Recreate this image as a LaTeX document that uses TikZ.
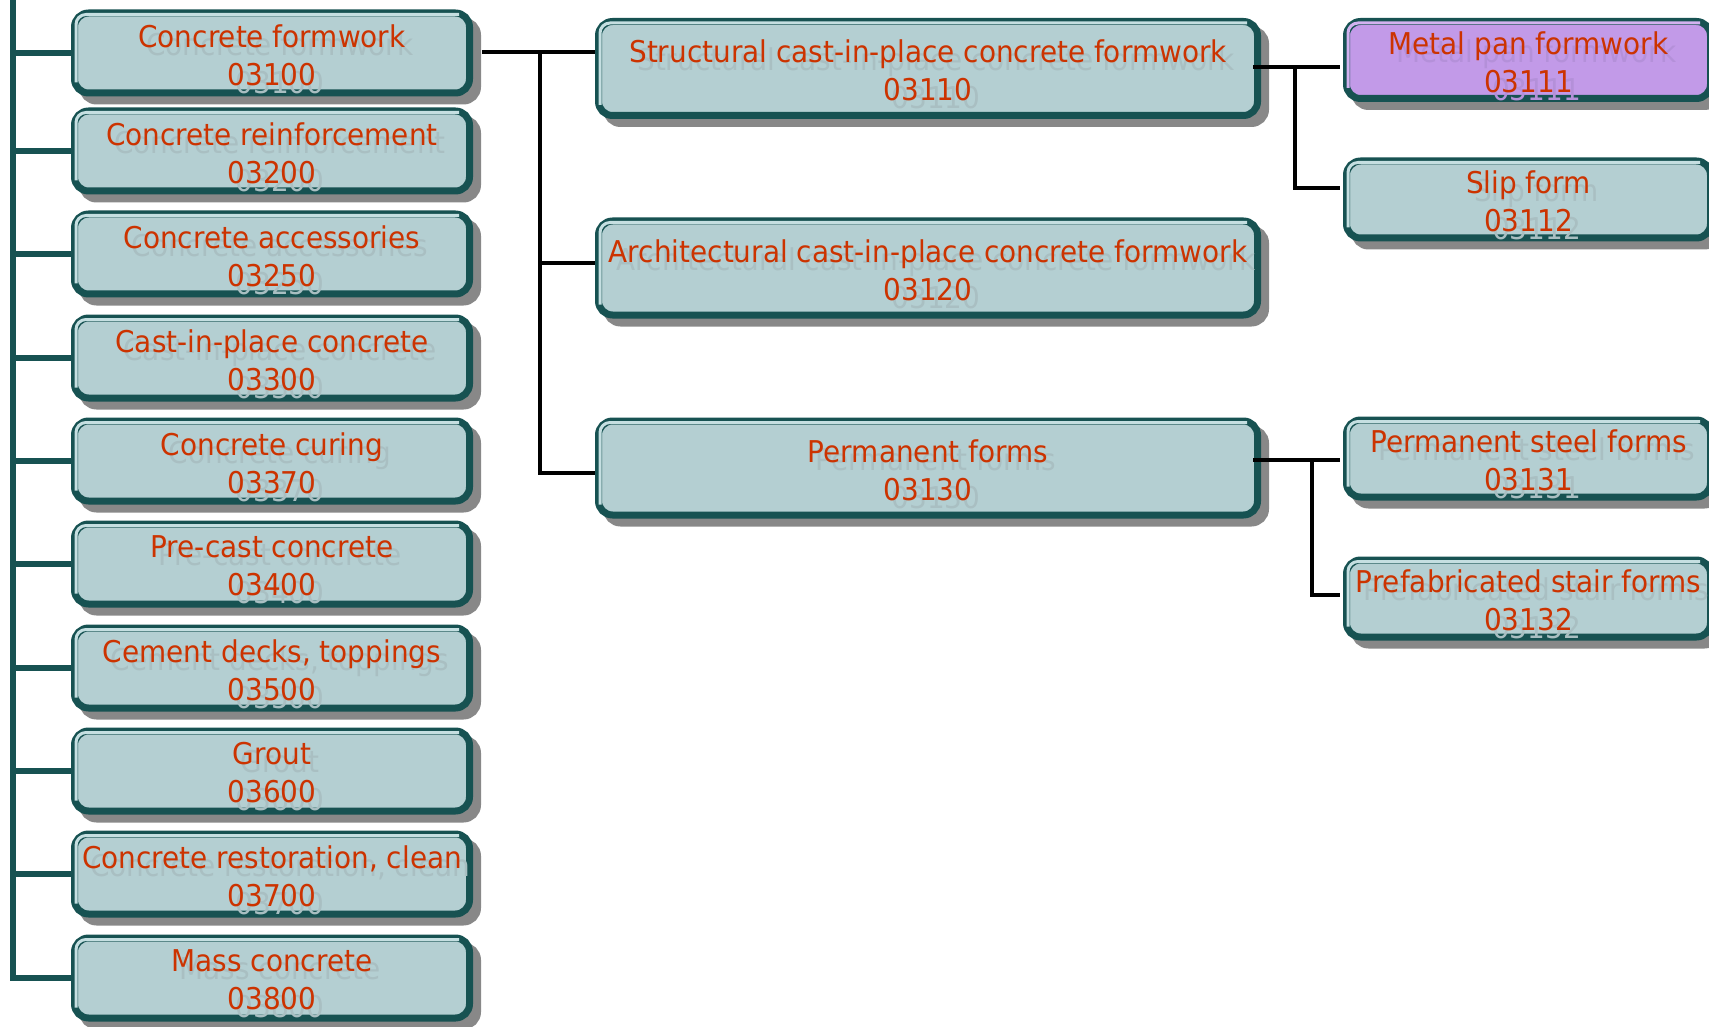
\documentclass[tikz,border=0pt]{standalone}
\usepackage{fontspec}
\setmainfont{DejaVu Sans}[FakeStretch=0.93]
\usetikzlibrary{shadows,calc}
\definecolor{boxfill}{HTML}{B4CFD2}
\definecolor{purplefill}{HTML}{C29AE8}
\definecolor{border}{HTML}{175252}
\definecolor{txt}{HTML}{CC3300}
\definecolor{shadowgray}{HTML}{888888}
\definecolor{ghost-blue}{HTML}{A9BFC2}
\definecolor{ghost-purple}{HTML}{B490D9}
\definecolor{rim-blue}{HTML}{C5DFE1}
\definecolor{rim-purple}{HTML}{D2B2F0}
\tikzset{
  box/.style={draw=border, line width=7pt, fill=boxfill, rounded corners=14pt, inner sep=0pt,
    drop shadow={shadow xshift=8pt, shadow yshift=-8pt, fill=shadowgray, draw=shadowgray, line width=7pt, opacity=1}},
  leftbox/.style={box, minimum width=395pt, minimum height=80pt},
  midbox/.style={box, minimum width=659pt, minimum height=94pt},
  rightbox/.style={box, minimum width=364pt, minimum height=77pt},
  lbl/.style={text=txt, font=\fontsize{30}{38}\selectfont, align=center, inner sep=0pt},
  conn/.style={draw=black, line width=4pt},
  trunk/.style={draw=border, line width=6pt},
  rim/.style={line width=3pt, rounded corners=10pt}
}
\newcommand\mybox[5]{%
  \node[#2] (#1) at #3 {};
  \draw[rim, draw=rim-#5] ([shift={(5pt,14pt)}]#1.south west) |- ([shift={(-14pt,-5pt)}]#1.north east);
  \node[lbl, text=ghost-#5] (#1-g) at ([shift={(8pt,-10pt)}]#1.center) {#4};
  \node[lbl] (#1-t) at ([yshift=-2pt]#1.center) {#4};
}
\begin{document}
\begin{tikzpicture}[x=1pt,y=-1pt]
\useasboundingbox (0,0) rectangle (1709,1027);
\clip (0,0) rectangle (1709,1027);
% left column
\mybox{b1}{leftbox}{(272,53)}{Concrete formwork\\03100}{blue}
\mybox{b2}{leftbox}{(272,151)}{Concrete reinforcement\\03200}{blue}
\mybox{b3}{leftbox}{(272,254)}{Concrete accessories\\03250}{blue}
\mybox{b4}{leftbox}{(272,358)}{Cast-in-place concrete\\03300}{blue}
\mybox{b5}{leftbox}{(272,461)}{Concrete curing\\03370}{blue}
\mybox{b6}{leftbox}{(272,564)}{Pre-cast concrete\\03400}{blue}
\mybox{b7}{leftbox}{(272,668)}{Cement decks, toppings\\03500}{blue}
\mybox{b8}{leftbox}{(272,771)}{Grout\\03600}{blue}
\mybox{b9}{leftbox}{(272,874)}{Concrete restoration, clean\\03700}{blue}
\mybox{b10}{leftbox}{(272,978)}{Mass concrete\\03800}{blue}
% middle column
\mybox{s1}{midbox}{(928,68.5)}{Structural cast-in-place concrete formwork\\03110}{blue}
\mybox{s2}{midbox}{(928,268)}{Architectural cast-in-place concrete formwork\\03120}{blue}
\mybox{s3}{midbox}{(928,468)}{Permanent forms\\03130}{blue}
% right column
\mybox{r1}{rightbox, fill=purplefill}{(1528.5,60)}{Metal pan formwork\\03111}{purple}
\mybox{r2}{rightbox}{(1528.5,199.5)}{Slip form\\03112}{blue}
\mybox{r3}{rightbox}{(1528.5,458.5)}{Permanent steel forms\\03131}{blue}
\mybox{r4}{rightbox}{(1528.5,598.5)}{Prefabricated stair forms\\03132}{blue}
% left trunk
\coordinate (ttop) at (13,-10);
\foreach \k in {1,...,10} {\draw[trunk] (ttop) |- (b\k.west);}
% to middle column
\coordinate (ja) at (540,52);
\coordinate (ja2) at (540,263);
\coordinate (ja3) at (540,473);
\draw[conn] ([xshift=9pt]b1.east |- ja) -- (ja) -- (s1.west |- ja);
\draw[conn] (ja) -- (ja3) -- (s3.west |- ja3);
\draw[conn] (ja2) -- (s2.west |- ja2);
% to right column
\coordinate (jb) at (1295,67);
\coordinate (jb2) at (1295,188);
\draw[conn] ([xshift=-8pt]s1.east |- jb) -- (jb) -- ([xshift=-3.5pt]r1.west |- jb);
\draw[conn] (jb) -- (jb2) -- ([xshift=-3.5pt]r2.west |- jb2);
\coordinate (jc) at (1312,460);
\coordinate (jc2) at (1312,595);
\draw[conn] ([xshift=-8pt]s3.east |- jc) -- (jc) -- ([xshift=-3.5pt]r3.west |- jc);
\draw[conn] (jc) -- (jc2) -- ([xshift=-3.5pt]r4.west |- jc2);
\end{tikzpicture}
\end{document}
